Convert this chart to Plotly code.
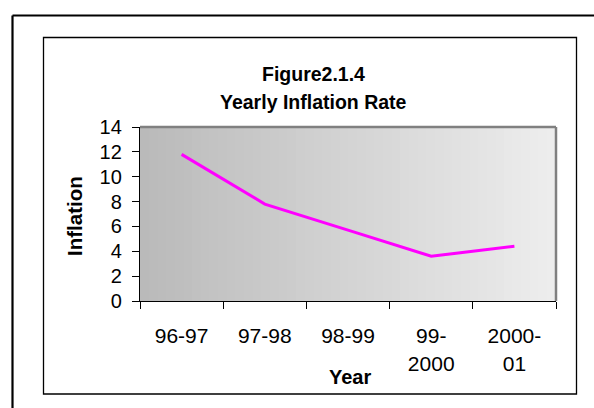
import plotly.graph_objects as go

# Yearly inflation rate (%)
years = ["96-97", "97-98", "98-99", "99-2000", "2000-01"]
tick_text = ["96-97", "97-98", "98-99", "99-<br>2000", "2000-<br>01"]
inflation = [11.8, 7.8, 5.7, 3.6, 4.4]

W, H = 594, 408
ML, MR, MT, MB = 140, 38, 127, 107
PW, PH = W - ML - MR, H - MT - MB
FONT = "Liberation Sans, Arial, sans-serif"


def px(x):
    return (x - ML) / PW


def py(y):
    return (H - MB - y) / PH


fig = go.Figure()
fig.add_trace(go.Scatter(
    x=years, y=inflation, mode="lines",
    line=dict(color="#ff00ff", width=3),
    hoverinfo="x+y", showlegend=False,
))

shapes = []
# horizontal grey gradient behind the plot area
n = 48
c0, c1 = 186, 237
for i in range(n):
    c = round(c0 + (c1 - c0) * i / (n - 1))
    shapes.append(dict(
        type="rect", xref="x domain", yref="y domain",
        x0=i / n, x1=(i + 1) / n + 0.002, y0=0, y1=1,
        fillcolor=f"rgb({c},{c},{c})", line=dict(width=0), layer="below",
    ))
# raised top/right edge of the plot area
shapes.append(dict(type="line", xref="paper", yref="paper",
                   x0=0, x1=1, y0=1, y1=1, line=dict(color="#808080", width=2.5)))
shapes.append(dict(type="line", xref="paper", yref="paper",
                   x0=1, x1=1, y0=0, y1=1, line=dict(color="#808080", width=2.5)))
# chart box
shapes.append(dict(type="rect", xref="paper", yref="paper",
                   x0=px(43.5), x1=px(576.5), y0=py(394), y1=py(37.5),
                   line=dict(color="black", width=1.3), fillcolor="rgba(0,0,0,0)"))
# outer page frame
shapes.append(dict(type="line", xref="paper", yref="paper",
                   x0=px(12.5), x1=px(W + 5), y0=py(15.5), y1=py(15.5),
                   line=dict(color="black", width=2.2)))
shapes.append(dict(type="line", xref="paper", yref="paper",
                   x0=px(12.5), x1=px(12.5), y0=py(15.5), y1=py(H + 5),
                   line=dict(color="black", width=2.2)))

annotations = [
    dict(text="<b>Figure2.1.4</b>", x=px(313), y=py(74), xref="paper", yref="paper",
         showarrow=False, font=dict(family=FONT, size=19.5, color="black"),
         xanchor="center", yanchor="middle"),
    dict(text="<b>Yearly Inflation Rate</b>", x=px(313), y=py(101.5), xref="paper",
         yref="paper", showarrow=False, font=dict(family=FONT, size=19.5, color="black"),
         xanchor="center", yanchor="middle"),
    dict(text="<b>Inflation</b>", x=px(74), y=py(216), xref="paper", yref="paper",
         showarrow=False, textangle=-90, font=dict(family=FONT, size=20.5, color="black"),
         xanchor="center", yanchor="middle"),
    dict(text="<b>Year</b>", x=px(350), y=py(377), xref="paper", yref="paper",
         showarrow=False, font=dict(family=FONT, size=20, color="black"),
         xanchor="center", yanchor="middle"),
]

fig.update_layout(
    width=W, height=H,
    margin=dict(l=ML, r=MR, t=MT, b=MB, pad=0),
    paper_bgcolor="white", plot_bgcolor="white",
    font=dict(family=FONT, size=19.5, color="black"),
    shapes=shapes, annotations=annotations,
    xaxis=dict(
        type="category", categoryorder="array", categoryarray=years,
        tickmode="array", tickvals=years, ticktext=tick_text,
        range=[-0.5, 4.5], tickson="boundaries",
        ticks="outside", ticklen=7, tickwidth=1, tickcolor="black",
        showline=True, linecolor="black", linewidth=1.3,
        showgrid=False, zeroline=False, ticklabelstandoff=16,
        tickfont=dict(family=FONT, size=21, color="black"),
    ),
    yaxis=dict(
        range=[0, 14], dtick=2, tick0=0,
        ticks="outside", ticklen=7, tickwidth=1, tickcolor="black",
        showline=True, linecolor="black", linewidth=1.3,
        showgrid=False, zeroline=False, ticklabelstandoff=6,
        tickfont=dict(family=FONT, size=20, color="black"),
    ),
)

fig.write_html("out.html")
